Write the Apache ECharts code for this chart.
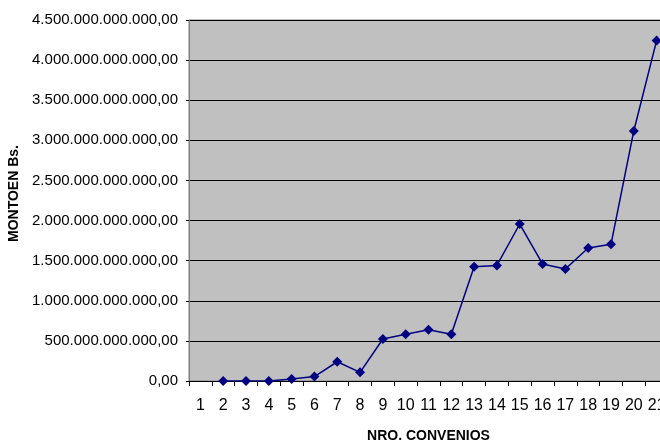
<!DOCTYPE html>
<html><head><meta charset="utf-8">
<script src="https://cdn.jsdelivr.net/npm/echarts@6/dist/echarts.min.js"></script>
<style>html,body{margin:0;padding:0;background:#fff}#c{width:660px;height:443px}</style>
</head><body><div id="c"></div>
<script>
var categories = ['1','2','3','4','5','6','7','8','9','10','11','12','13','14','15','16','17','18','19','20','21'];
var montos = [null, 0, 0, 0, 25e9, 55e9, 240e9, 108e9, 523e9, 582e9, 640e9, 582e9, 1425e9, 1440e9, 1957e9, 1459e9, 1397e9, 1658e9, 1704e9, 3117e9, 4243e9];
var yTicks = [0, 500e9, 1000e9, 1500e9, 2000e9, 2500e9, 3000e9, 3500e9, 4000e9, 4500e9];

function fmt(v){
  var s = Math.round(v).toString();
  s = s.replace(/\B(?=(\d{3})+(?!\d))/g, '.');
  return s + ',00';
}
var chart = echarts.init(document.getElementById('c'));
chart.setOption({
  animation: false,
  grid: {left: 189, top: 20, width: 479, height: 361, outerBoundsMode: 'none', containLabel: false, show: true, backgroundColor: '#c0c0c0', borderColor: '#808080', borderWidth: 1},
  xAxis: {
    type: 'category', data: categories, boundaryGap: true,
    axisLine: {lineStyle: {color: '#000', width: 1}},
    axisTick: {show: true, inside: false, length: 5, lineStyle: {color: '#000'}},
    axisLabel: {color: '#000', fontFamily: 'Liberation Sans Narrow, Liberation Sans, Arial', fontSize: 16, margin: 17, interval: 0},
    name: 'NRO. CONVENIOS', nameLocation: 'middle', nameGap: 48,
    nameTextStyle: {color: '#000', fontFamily: 'Liberation Sans, Arial', fontSize: 14, fontWeight: 'bold'}
  },
  yAxis: {
    type: 'value', min: 0, max: 4500e9, interval: 500e9,
    axisLine: {show: true, lineStyle: {color: '#808080'}},
    axisTick: {show: true, length: 3, lineStyle: {color: '#000'}},
    splitLine: {show: true, lineStyle: {color: '#000', width: 1}},
    axisLabel: {color: '#000', fontFamily: 'Liberation Sans, Arial', fontSize: 15, margin: 11, formatter: function(v){return fmt(v);}},
    name: 'MONTOEN Bs.', nameLocation: 'middle', nameGap: 166, nameRotate: 90,
    nameTextStyle: {color: '#000', fontFamily: 'Liberation Sans, Arial', fontSize: 14, fontWeight: 'bold', padding: [0, 0, 0, 14]}
  },
  series: [{
    type: 'line', data: montos, connectNulls: false,
    symbol: 'diamond', symbolSize: 10,
    lineStyle: {color: '#000080', width: 1.5},
    itemStyle: {color: '#000080'}
  }]
});
</script></body></html>
